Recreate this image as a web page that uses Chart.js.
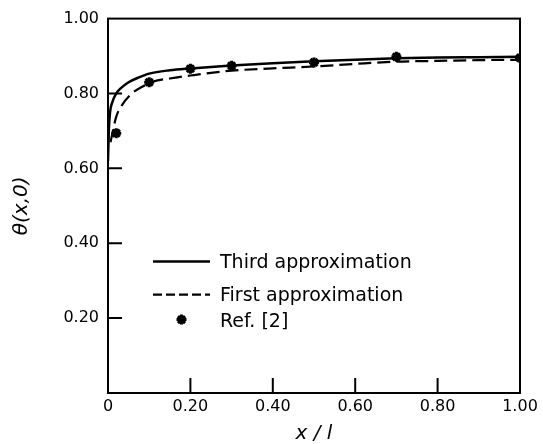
<!DOCTYPE html>
<html>
<head>
<meta charset="utf-8">
<script src="https://cdn.jsdelivr.net/npm/chart.js@4.4.1/dist/chart.umd.min.js"></script>
<style>
  html, body { margin: 0; padding: 0; background: #fff; }
  #wrap { width: 543px; height: 444px; position: relative; }
</style>
</head>
<body>
<div id="wrap"><canvas id="c"></canvas></div>
<script>
// ---- data ----
const thirdX = [0, 0.002, 0.005, 0.01, 0.02, 0.03, 0.05, 0.075, 0.1, 0.15, 0.2, 0.3, 0.4, 0.5, 0.6, 0.7, 0.8, 0.9, 1.0];
const thirdY = [0.62, 0.70, 0.75, 0.775, 0.80, 0.813, 0.830, 0.843, 0.853, 0.862, 0.867, 0.875, 0.881, 0.886, 0.890, 0.894, 0.896, 0.897, 0.898];

const firstX = [0.006, 0.01, 0.02, 0.034, 0.058, 0.09, 0.11, 0.15, 0.2, 0.3, 0.4, 0.5, 0.6, 0.7, 0.8, 0.9, 1.0];
const firstY = [0.67, 0.69, 0.738, 0.769, 0.80, 0.822, 0.832, 0.840, 0.848, 0.861, 0.867, 0.872, 0.879, 0.885, 0.887, 0.889, 0.890];

const refX = [0.02, 0.1, 0.2, 0.3, 0.5, 0.7, 1.0];
const refY = [0.694, 0.830, 0.866, 0.874, 0.883, 0.898, 0.895];

const xTicks = [0, 0.2, 0.4, 0.6, 0.8, 1.0];
const yTicks = [0, 0.2, 0.4, 0.6, 0.8, 1.0];

const seriesNames = ['Third approximation', 'First approximation', 'Ref. [2]'];
const xTitle = 'x / l';
const yTitle = 'θ(x,0)';

// ---- helpers ----
const pts = (xs, ys) => xs.map((x, i) => ({x: x, y: ys[i]}));
const FONT = '"DejaVu Sans", sans-serif';

const framePlugin = {
  id: 'frame',
  afterDraw(chart) {
    const {ctx, chartArea: a, scales} = chart;
    ctx.save();
    ctx.strokeStyle = '#000';
    ctx.lineWidth = 2;
    ctx.strokeRect(a.left, a.top, a.right - a.left, a.bottom - a.top);
    ctx.beginPath();
    yTicks.forEach(v => {
      if (v <= 0 || v >= 1) return;
      const p = scales.y.getPixelForValue(v);
      ctx.moveTo(a.left, p); ctx.lineTo(a.left + 14, p);
    });
    xTicks.forEach(v => {
      if (v <= 0 || v >= 1) return;
      const p = scales.x.getPixelForValue(v);
      ctx.moveTo(p, a.bottom); ctx.lineTo(p, a.bottom - 15);
    });
    ctx.stroke();
    ctx.restore();
  }
};

const legendPlugin = {
  id: 'insideLegend',
  afterDatasetsDraw(chart) {
    const {ctx, chartArea: a} = chart;
    const ds = chart.data.datasets;
    const x0 = a.left + 45, x1 = a.left + 102, tx = a.left + 112;
    const rows = [a.top + 244, a.top + 277, a.top + 303];
    ctx.save();
    ctx.font = '19px ' + FONT;
    ctx.fillStyle = '#000';
    ctx.strokeStyle = '#000';
    ctx.textBaseline = 'middle';
    ctx.textAlign = 'left';
    for (let i = 0; i < 3; i++) {
      const d = ds[i];
      const y = rows[i];
      if (i < 2) {
        ctx.save();
        ctx.lineWidth = d.borderWidth;
        ctx.setLineDash(i === 1 ? [9, 4] : []);
        ctx.beginPath();
        ctx.moveTo(x0, y - 1); ctx.lineTo(x1, y - 1);
        ctx.stroke();
        ctx.restore();
      } else {
        ctx.save();
        ctx.lineWidth = d.pointBorderWidth;
        Chart.helpers.drawPoint(ctx, {
          pointStyle: d.pointStyle, radius: d.pointRadius, borderWidth: d.pointBorderWidth, rotation: 0
        }, (x0 + x1) / 2, y - 2);
        ctx.restore();
      }
      ctx.fillText(d.label, tx, y);
    }
    ctx.restore();
  }
};

new Chart(document.getElementById('c'), {
  type: 'line',
  data: {
    datasets: [
      {
        label: seriesNames[0],
        data: pts(thirdX, thirdY),
        borderColor: '#000', backgroundColor: '#000',
        borderWidth: 2.5, pointRadius: 0, fill: false,
        cubicInterpolationMode: 'monotone'
      },
      {
        label: seriesNames[1],
        data: pts(firstX, firstY),
        borderColor: '#000', backgroundColor: '#000',
        borderWidth: 2.2, borderDash: [13, 6], pointRadius: 0, fill: false,
        cubicInterpolationMode: 'monotone'
      },
      {
        label: seriesNames[2],
        data: pts(refX, refY),
        showLine: false,
        borderColor: '#000', backgroundColor: '#000',
        pointStyle: 'star', pointRadius: 5, pointBorderWidth: 3,
        pointBorderColor: '#000', pointBackgroundColor: '#000'
      }
    ]
  },
  options: {
    responsive: true,
    maintainAspectRatio: false,
    animation: false,
    devicePixelRatio: 1,
    layout: { padding: { left: 0, right: 23, top: 12, bottom: 0 } },
    plugins: { legend: { display: false }, tooltip: { enabled: false } },
    scales: {
      x: {
        type: 'linear', min: 0, max: 1,
        afterBuildTicks: s => { s.ticks = xTicks.map(v => ({value: v})); },
        afterFit: s => { s.height = 51; },
        grid: { display: false, drawTicks: false },
        border: { display: false },
        ticks: {
          color: '#000', padding: 4, maxRotation: 0,
          font: { family: FONT, size: 16 },
          callback: v => v === 0 ? '0' : v.toFixed(2)
        },
        title: {
          display: true, text: xTitle, color: '#000',
          font: { family: FONT, size: 20, style: 'italic', lineHeight: 1 },
          padding: { top: 0, bottom: 0 }
        }
      },
      y: {
        type: 'linear', min: 0, max: 1,
        afterBuildTicks: s => { s.ticks = yTicks.map(v => ({value: v})); },
        afterFit: s => { s.width = 108; },
        grid: { display: false, drawTicks: false },
        border: { display: false },
        ticks: {
          color: '#000', padding: 9,
          font: { family: FONT, size: 16 },
          callback: v => v === 0 ? '' : v.toFixed(2)
        },
        title: {
          display: true, text: yTitle, color: '#000',
          font: { family: FONT, size: 20, style: 'italic', lineHeight: 1 },
          padding: { top: 12, bottom: 0 }
        }
      }
    }
  },
  plugins: [framePlugin, legendPlugin]
});
</script>
</body>
</html>
